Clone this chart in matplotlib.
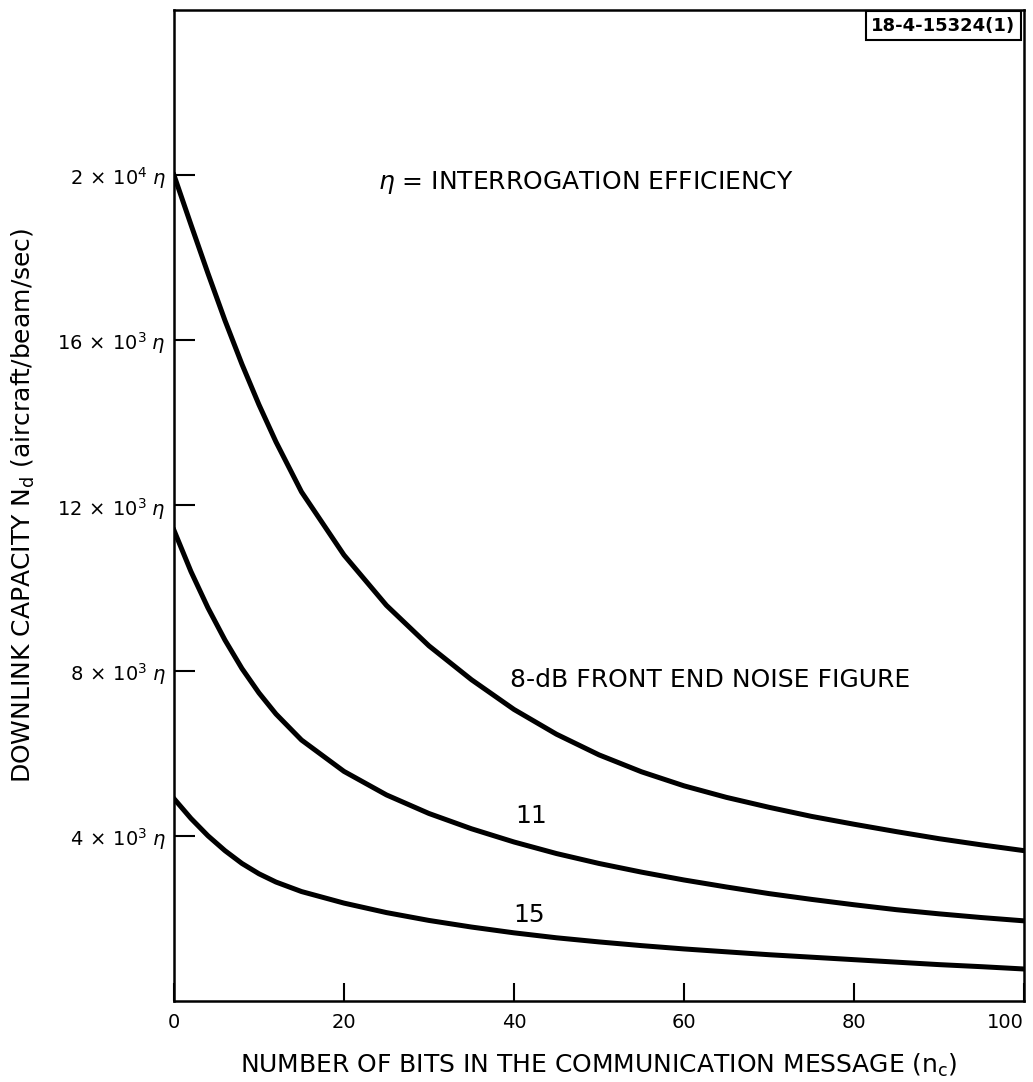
import matplotlib.pyplot as plt

# 曲线数据
n_bits = [0, 2, 4, 6, 8, 10, 12, 15, 20, 25, 30, 35, 40, 45, 50,
          55, 60, 65, 70, 75, 80, 85, 90, 95, 100]
cap_8db = [20000, 18800, 17620, 16480, 15420, 14440, 13540, 12330, 10800, 9580, 8600,
           7780, 7060, 6460, 5960, 5550, 5210, 4930, 4690, 4470, 4280, 4100, 3930, 3780, 3640]
cap_11db = [11400, 10400, 9520, 8740, 8050, 7460, 6950, 6320, 5560, 4990, 4540,
            4170, 3850, 3570, 3330, 3120, 2930, 2760, 2600, 2460, 2330, 2210, 2110, 2020, 1940]
cap_15db = [4900, 4420, 4000, 3640, 3330, 3080, 2880, 2650, 2370, 2140, 1950,
            1790, 1650, 1530, 1430, 1340, 1260, 1190, 1120, 1060, 1000, 940, 880, 830, 774]

x_ticks = [0, 20, 40, 60, 80, 100]
y_ticks = [4000, 8000, 12000, 16000, 20000]
y_labels = [r'$4\,\times\,10^3\;\eta$', r'$8\,\times\,10^3\;\eta$', r'$12\,\times\,10^3\;\eta$',
            r'$16\,\times\,10^3\;\eta$', r'$2\,\times\,10^4\;\eta$']

fig = plt.figure(figsize=(10.33, 10.82), dpi=100)
ax = fig.add_axes([0.1684, 0.0749, 0.8229, 0.9159])

for y in [cap_8db, cap_11db, cap_15db]:
    ax.plot(n_bits, y, color='black', linewidth=3.6, solid_joinstyle='round')

ax.set_xlim(0, 100)
ax.set_ylim(0, 24000)
ax.set_xticks(x_ticks)
ax.set_xticklabels([str(t) for t in x_ticks], fontsize=14)
ax.get_xticklabels()[-1].set_ha('right')
ax.set_yticks(y_ticks)
ax.set_yticklabels(y_labels, fontsize=14)
ax.tick_params(axis='y', direction='in', length=15, width=1.5, pad=6)
ax.tick_params(axis='x', direction='in', length=13, width=1.5, pad=9)
for s in ax.spines.values():
    s.set_linewidth(1.8)

ax.set_xlabel(r'NUMBER OF BITS IN THE COMMUNICATION MESSAGE (n$_\mathrm{c}$)', fontsize=18)
ax.xaxis.set_label_coords(0.5, -0.051)
ax.set_ylabel(r'DOWNLINK CAPACITY N$_\mathrm{d}$ (aircraft/beam/sec)', fontsize=18)
ax.yaxis.set_label_coords(-0.161, 0.5)

ax.text(24.0, 19820, r'$\eta$ = INTERROGATION EFFICIENCY', fontsize=18, va='center')
ax.text(39.5, 7770, '8-dB FRONT END NOISE FIGURE', fontsize=18, va='center')
ax.text(40.1, 4480, '11', fontsize=18, va='center')
ax.text(39.9, 2080, '15', fontsize=18, va='center')
ax.text(0.99, 0.984, '18-4-15324(1)', transform=ax.transAxes, fontsize=13,
        fontweight='bold', ha='right', va='center',
        bbox=dict(boxstyle='square,pad=0.3', facecolor='white', edgecolor='black', linewidth=1.5))

plt.savefig('out.png', dpi=100)
